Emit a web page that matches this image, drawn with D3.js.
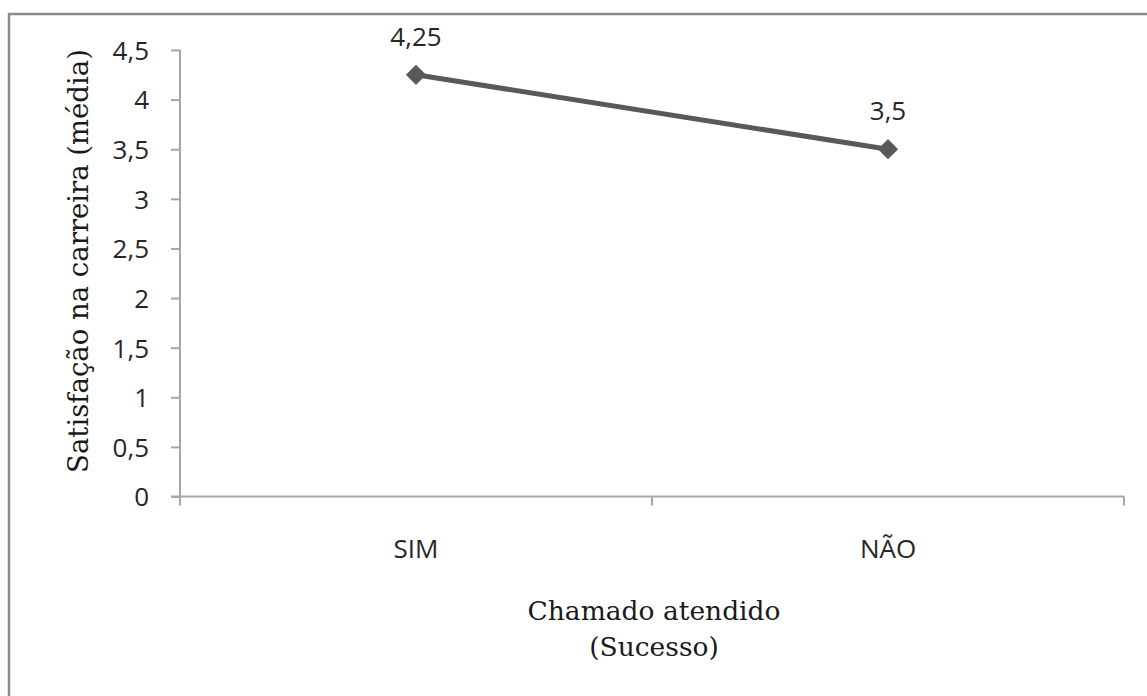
<!DOCTYPE html>
<html>
<head>
<meta charset="utf-8">
<script src="https://cdn.jsdelivr.net/npm/d3@7"></script>
<style>
  html, body { margin: 0; padding: 0; background: #fff; }
  svg { display: block; }
</style>
</head>
<body>
<svg id="chart" width="1147" height="696"></svg>
<script>
const categories = ["SIM", "NÃO"];
const values = [4.25, 3.5];
const valueLabels = ["4,25", "3,5"];
const yTicks = [0, 0.5, 1, 1.5, 2, 2.5, 3, 3.5, 4, 4.5];
const yTitle = "Satisfação na carreira (média)";
const xTitleLines = ["Chamado atendido", "(Sucesso)"];

const svg = d3.select("#chart");
const fmt = v => String(v).replace(".", ",");

// outer border
svg.append("rect")
  .attr("x", 9).attr("y", 14)
  .attr("width", 1160).attr("height", 700)
  .attr("fill", "none").attr("stroke", "#8c8c8c").attr("stroke-width", 2.5);

const x = d3.scaleBand().domain(categories).range([180, 1124]).padding(0);
const y = d3.scaleLinear().domain([0, 4.5]).range([496.5, 50]);

const axisColor = "#a6a6a6";
const tickFont = "'Open Sans', 'Liberation Sans', sans-serif";
const serif = "'DejaVu Serif', 'Liberation Serif', serif";
const textColor = "#262626";

// Y axis
const yAxis = svg.append("g").attr("transform", "translate(180,0)")
  .call(d3.axisLeft(y).tickValues(yTicks).tickFormat(fmt).tickSize(9).tickPadding(22));
yAxis.select(".domain").attr("stroke", axisColor).attr("stroke-width", 2).attr("d", "M0,496.5V50");
yAxis.selectAll(".tick line").attr("stroke", axisColor).attr("stroke-width", 2);
yAxis.selectAll(".tick text")
  .attr("font-family", tickFont).attr("font-size", 26).attr("fill", textColor)
  .attr("dy", "0.36em");

// X axis
const xAxis = svg.append("g").attr("transform", "translate(0,496.5)")
  .call(d3.axisBottom(x).tickSize(0).tickPadding(0));
xAxis.select(".domain").remove();
xAxis.append("line").attr("x1", 171).attr("x2", x.range()[1]).attr("y1", 0).attr("y2", 0)
  .attr("stroke", axisColor).attr("stroke-width", 2);
// band boundary ticks
const bounds = [x.range()[0], ...categories.map(c => x(c) + x.bandwidth())];
xAxis.selectAll(".btick").data(bounds).join("line")
  .attr("class", "btick")
  .attr("x1", d => d).attr("x2", d => d).attr("y1", 0).attr("y2", 9)
  .attr("stroke", axisColor).attr("stroke-width", 2);
xAxis.selectAll(".tick text")
  .attr("font-family", tickFont).attr("font-size", 26).attr("fill", textColor)
  .attr("dy", null).attr("y", 61);

// line
const cx = c => x(c) + x.bandwidth() / 2;
const data = categories.map((c, i) => ({ c, v: values[i], label: valueLabels[i] }));
svg.append("path")
  .datum(data)
  .attr("fill", "none").attr("stroke", "#595959").attr("stroke-width", 5)
  .attr("d", d3.line().x(d => cx(d.c)).y(d => y(d.v)));

// markers
svg.selectAll(".mk").data(data).join("path")
  .attr("class", "mk")
  .attr("transform", d => `translate(${cx(d.c)},${y(d.v)})`)
  .attr("d", d3.symbol().type(d3.symbolDiamond2).size(260))
  .attr("fill", "#595959");

// data labels
svg.selectAll(".dl").data(data).join("text")
  .attr("class", "dl")
  .attr("x", d => cx(d.c)).attr("y", d => y(d.v) - 29)
  .attr("text-anchor", "middle")
  .attr("font-family", tickFont).attr("font-size", 26).attr("fill", textColor)
  .text(d => d.label);

// axis titles
svg.append("text")
  .attr("transform", "translate(88,261) rotate(-90)")
  .attr("text-anchor", "middle")
  .attr("font-family", serif).attr("font-size", 27.5).attr("fill", "#1a1a1a")
  .text(yTitle);

svg.selectAll(".xt").data(xTitleLines).join("text")
  .attr("class", "xt")
  .attr("x", 654).attr("y", (d, i) => 620 + i * 36)
  .attr("text-anchor", "middle")
  .attr("font-family", serif).attr("font-size", 26.5).attr("fill", "#1a1a1a")
  .text(d => d);
</script>
</body>
</html>
